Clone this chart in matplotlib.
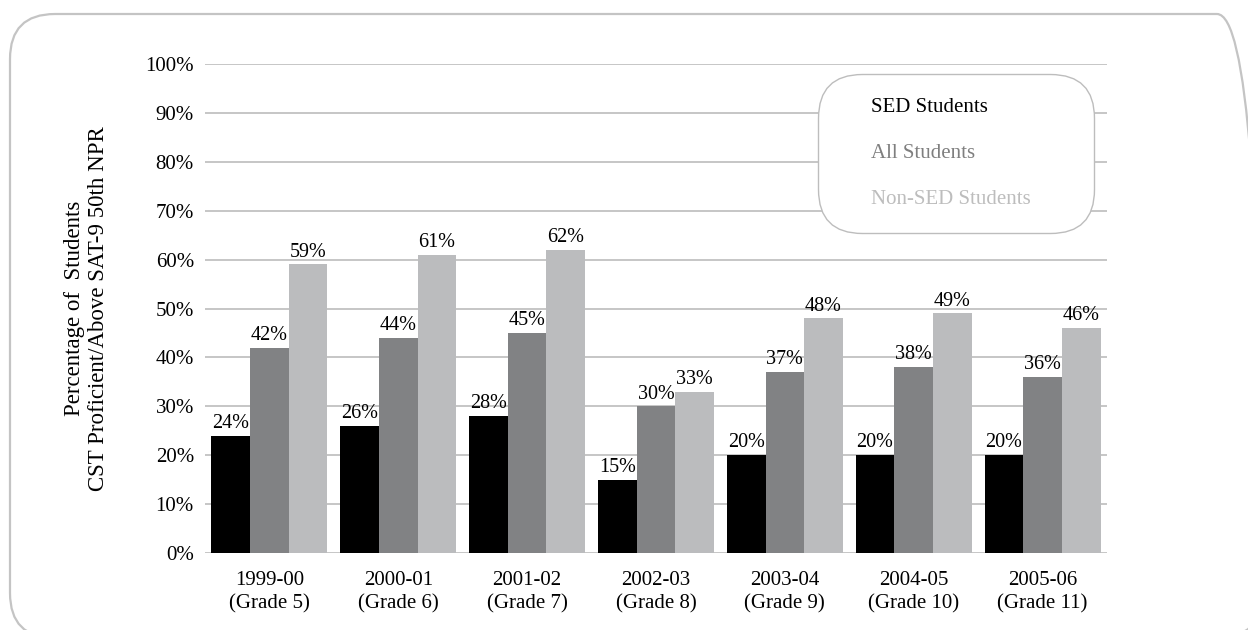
import matplotlib
matplotlib.use("Agg")
import matplotlib.pyplot as plt
import numpy as np
from matplotlib.patches import FancyBboxPatch

# Data
years = ["1999-00", "2000-01", "2001-02", "2002-03", "2003-04", "2004-05", "2005-06"]
grades = ["(Grade 5)", "(Grade 6)", "(Grade 7)", "(Grade 8)", "(Grade 9)", "(Grade 10)", "(Grade 11)"]
series_names = ["SED Students", "All Students", "Non-SED Students"]
sed = [24, 26, 28, 15, 20, 20, 20]
all_students = [42, 44, 45, 30, 37, 38, 36]
non_sed = [59, 61, 62, 33, 48, 49, 46]
y_ticks = [0, 10, 20, 30, 40, 50, 60, 70, 80, 90, 100]

colors = ["#000000", "#818284", "#bbbcbe"]
grid_color = "#c6c6c6"
font = "Liberation Serif"

plt.rcParams["font.family"] = [font, "DejaVu Serif"]

W, H, DPI = 1248, 630, 100
fig = plt.figure(figsize=(W / DPI, H / DPI), dpi=DPI)
fig.patch.set_facecolor("white")

# Outer rounded panel
panel = FancyBboxPatch((0.10, -0.08), 12.52, 6.16 + 0.08,
                       boxstyle="round,pad=0,rounding_size=0.45",
                       transform=fig.dpi_scale_trans, facecolor="none",
                       edgecolor="#c4c4c4", linewidth=1.6, zorder=0)
fig.patches.append(panel)

ax = fig.add_axes([205 / W, 1 - 553 / H, (1107 - 205) / W, (553 - 64) / H])
ax.set_facecolor("none")

x = np.arange(len(years))
width = 0.3
values = [sed, all_students, non_sed]
for i, (vals, name, c) in enumerate(zip(values, series_names, colors)):
    bars = ax.bar(x + (i - 1) * width, vals, width, color=c, label=name, zorder=3)
    for rect, v in zip(bars, vals):
        ax.annotate(f"{v}%", (rect.get_x() + rect.get_width() / 2, rect.get_height()),
                    xytext=(0, 2), textcoords="offset points",
                    ha="center", va="bottom", fontsize=14.5, color="black", zorder=4)

ax.set_xlim(-0.5, len(years) - 0.5)
ax.set_ylim(0, 100)
ax.set_yticks(y_ticks)
ax.set_yticklabels([f"{t}%" for t in y_ticks], fontsize=15)
ax.set_xticks(x)
ax.set_xticklabels([f"{y}\n{g}" for y, g in zip(years, grades)], fontsize=15, linespacing=1.3)
ax.tick_params(axis="both", length=0)
ax.tick_params(axis="y", pad=8)
ax.tick_params(axis="x", pad=13)
ax.yaxis.grid(True, color=grid_color, linewidth=1.4, zorder=0)
ax.set_axisbelow(True)
for s in ax.spines.values():
    s.set_visible(False)

ax.set_ylabel("Percentage of  Students\nCST Proficient/Above SAT-9 50th NPR",
              fontsize=16.5, linespacing=1.2)
ax.yaxis.set_label_coords(-0.106, 0.5)

leg = ax.legend(loc="upper left", bbox_to_anchor=(0.68, 0.65, 0.3056, 0.33),
                mode="expand", fontsize=15, frameon=True, fancybox=True,
                handlelength=0, handletextpad=1.4, borderpad=1.15,
                labelspacing=1.25, borderaxespad=0,
                labelcolor=["#000000", "#7f7f7f", "#bdbdbd"])
frame = leg.get_frame()
frame.set_boxstyle("round,pad=0,rounding_size=2.1")
frame.set_edgecolor("#bdbdbd")
frame.set_linewidth(1.0)
frame.set_facecolor("white")
frame.set_alpha(1)
for h in leg.legend_handles:
    h.set_visible(False)

fig.savefig("out.png", dpi=DPI, facecolor="white")
